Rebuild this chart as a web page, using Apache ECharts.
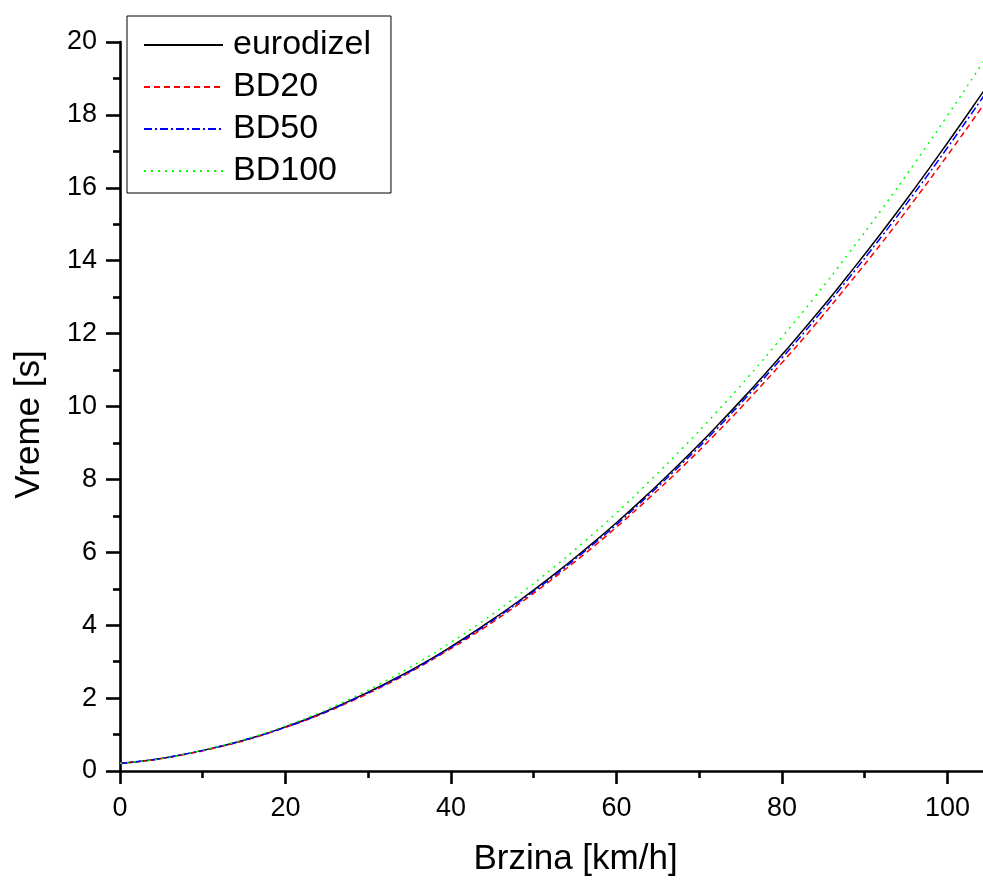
<!DOCTYPE html>
<html>
<head>
<meta charset="utf-8">
<script src="https://cdn.jsdelivr.net/npm/echarts@6/dist/echarts.min.js"></script>
<style>
html,body{margin:0;padding:0;background:#fff;}
#chart{width:983px;height:882px;}
</style>
</head>
<body>
<div id="chart"></div>
<script>
// Speed (km/h)
var speed = [0,4,8,12,16,20,24,28,32,36,40,44,48,52,56,60,64,68,72,76,80,84,88,92,96,100,104,106];
// Time (s)
var eurodizel = [0.21,0.31,0.47,0.67,0.91,1.21,1.55,1.95,2.39,2.87,3.41,4.00,4.63,5.31,6.04,6.81,7.64,8.51,9.43,10.40,11.42,12.48,13.60,14.76,15.97,17.23,18.53,19.20];
var bd20      = [0.21,0.31,0.46,0.66,0.90,1.20,1.53,1.92,2.35,2.83,3.36,3.93,4.55,5.22,5.93,6.69,7.50,8.35,9.25,10.20,11.20,12.24,13.34,14.47,15.66,16.89,18.16,18.82];
var bd50      = [0.21,0.31,0.47,0.67,0.91,1.20,1.54,1.94,2.37,2.85,3.39,3.97,4.60,5.27,6.00,6.76,7.59,8.45,9.36,10.33,11.33,12.39,13.50,14.65,15.85,17.10,18.39,19.05];
var bd100     = [0.21,0.31,0.47,0.68,0.93,1.24,1.59,2.00,2.46,2.97,3.53,4.14,4.80,5.51,6.27,7.08,7.95,8.86,9.82,10.83,11.90,13.01,14.18,15.39,16.66,17.98,19.34,20.04];
var seriesNames = ['eurodizel','BD20','BD50','BD100'];
var xMajorTicks = [0,20,40,60,80,100];
var xMinorTicks = [10,30,50,70,90];

function pairs(ys){ return speed.map(function(x,i){ return [x, ys[i]]; }); }

var FONT = '"Liberation Sans", Arial, sans-serif';
var chart = echarts.init(document.getElementById('chart'), null, {renderer:'canvas'});

var axisLine = {show:true, onZero:false, lineStyle:{color:'#000', width:2.6}};

var option = {
  animation:false,
  backgroundColor:'#fff',
  grid:{left:120, top:42, right:0, bottom:107},
  legend:{
    orient:'vertical', left:127, top:16,
    backgroundColor:'#fff',
    borderColor:'#000', borderWidth:1,
    padding:[11,20,4,16],
    itemWidth:79, itemHeight:14, itemGap:6,
    itemStyle:{opacity:0},
    textStyle:{fontFamily:FONT, fontSize:34, color:'#000', lineHeight:36, padding:[0,0,0,5]},
    data:seriesNames
  },
  xAxis:[{
    type:'value', min:0, max:104.3,
    name:'Brzina [km/h]', nameLocation:'middle', nameGap:71,
    nameTextStyle:{fontFamily:FONT, fontSize:35, color:'#000', padding:[0,0,0,48]},
    axisLine:axisLine,
    axisTick:{show:true, inside:false, length:13, lineStyle:{color:'#000', width:2.6}, customValues:xMajorTicks},
    axisLabel:{fontFamily:FONT, fontSize:27, color:'#000', margin:24, customValues:xMajorTicks},
    splitLine:{show:false}
  },{
    type:'value', min:0, max:104.3, gridIndex:0, position:'bottom',
    axisLine:{show:false},
    axisTick:{show:true, inside:false, length:7, lineStyle:{color:'#000', width:2.6}, customValues:xMinorTicks},
    axisLabel:{show:false},
    splitLine:{show:false}
  }],
  yAxis:{
    type:'value', min:0, max:20, interval:2,
    name:'Vreme [s]', nameLocation:'middle', nameGap:73,
    nameTextStyle:{fontFamily:FONT, fontSize:35, color:'#000', padding:[0,36,0,0]},
    axisLine:axisLine,
    axisTick:{show:true, inside:false, length:14, lineStyle:{color:'#000', width:2.6}},
    minorTick:{show:true, splitNumber:2, length:7, lineStyle:{color:'#000', width:2.6}},
    axisLabel:{fontFamily:FONT, fontSize:27, color:'#000', margin:23},
    splitLine:{show:false}
  },
  series:[
    {name:'eurodizel', type:'line', data:pairs(eurodizel), smooth:true, symbol:'none',
     lineStyle:{color:'#000000', width:1.5, type:'solid'}, itemStyle:{color:'#000000'}},
    {name:'BD20', type:'line', data:pairs(bd20), smooth:true, symbol:'none',
     lineStyle:{color:'#ff0000', width:1.5, type:[6,4]}, itemStyle:{color:'#ff0000'}},
    {name:'BD50', type:'line', data:pairs(bd50), smooth:true, symbol:'none',
     lineStyle:{color:'#0000ff', width:1.5, type:[8,3,2,3]}, itemStyle:{color:'#0000ff'}},
    {name:'BD100', type:'line', data:pairs(bd100), smooth:true, symbol:'none',
     lineStyle:{color:'#00ff00', width:1.5, type:[2,5]}, itemStyle:{color:'#00ff00'}}
  ]
};
chart.setOption(option);
</script>
</body>
</html>
